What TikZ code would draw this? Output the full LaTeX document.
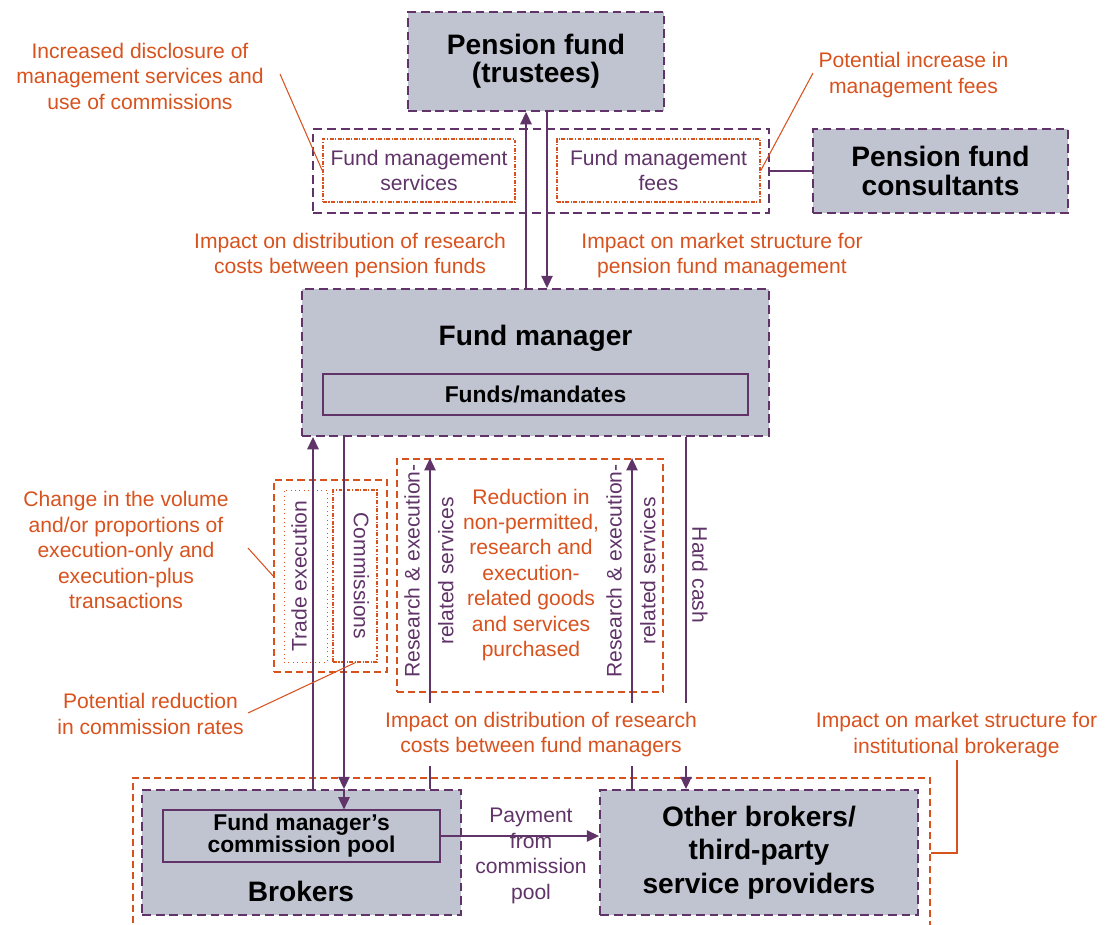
\documentclass[tikz,border=0pt]{standalone}
\usepackage{fontspec}
\setmainfont{Liberation Sans}
\usetikzlibrary{arrows.meta}

\definecolor{plum}{RGB}{96,52,104}
\definecolor{rust}{RGB}{216,82,30}
\definecolor{slate}{RGB}{191,196,208}

\begin{document}
\begin{tikzpicture}
  [x=0.02cm,y=-0.02cm,every node/.style={align=center,inner sep=2pt}]

  \tikzstyle{entity} = [draw=plum, fill=slate, line width=1.1pt, dash pattern=on 5pt off 2.8pt, font=\bfseries\fontsize{16}{16}\selectfont]
  \tikzstyle{group}  = [draw=plum, line width=1.1pt, dash pattern=on 5pt off 2.8pt]
  \tikzstyle{flow}   = [draw=rust, line width=0.9pt, dash pattern=on 2.2pt off 0.9pt on 0.6pt off 0.9pt, text=plum, font=\fontsize{12}{14.7}\selectfont]
  \tikzstyle{impact} = [draw=rust, line width=1pt, dash pattern=on 4pt off 2.3pt]
  \tikzstyle{subbox} = [draw=plum, line width=0.7pt, font=\bfseries\fontsize{13}{12.5}\selectfont]
  \tikzstyle{note}   = [text=rust, font=\fontsize{12}{14.5}\selectfont]
  \tikzstyle{tag}    = [text=plum, font=\fontsize{12}{14.7}\selectfont]
  \tikzstyle{title}  = [font=\bfseries\fontsize{16}{16}\selectfont]

  \useasboundingbox (0,0) rectangle (1109,924);
  \clip (0,0) rectangle (1109,924);

  % pension fund level
  \node[entity, minimum width=5.12cm, minimum height=1.98cm] (pf)  at (536,61.5)  {Pension fund\\(trustees)};
  \node[group,  minimum width=9.12cm, minimum height=1.68cm] (svc) at (541,171)   {};
  \node[flow,   minimum width=3.84cm, minimum height=1.26cm] (fms) at (419,170.5) {Fund management\\services};
  \node[flow,   minimum width=4.06cm, minimum height=1.26cm] (fmf) at (658.5,170.5) {Fund management\\fees};
  \node[entity, minimum width=5.10cm, minimum height=1.68cm] (pfc) at (940.5,171) {Pension fund\\consultants};

  % fund manager
  \node[entity, minimum width=9.34cm, minimum height=2.94cm] (fm)  at (535.5,362.5) {};
  \node[title]                                               (fmt) at (535.5,338)   {Fund manager};
  \node[subbox, minimum width=8.5cm, minimum height=0.82cm]  (fmd) at (535.5,394.5) {Funds/mandates};

  % flows between fund manager and brokers
  \node[impact, minimum width=2.26cm, minimum height=3.84cm] (tbox) at (330.5,576) {};
  \node[draw=rust, line width=0.5pt, dotted, minimum width=0.86cm, minimum height=3.44cm] (te) at (305.5,576) {};
  \node[flow, minimum width=0.88cm, minimum height=3.44cm]   (cm)   at (355,576) {};
  \node[tag, rotate=90]  (tet) at (299,576)   {Trade execution};
  \node[tag, rotate=-90] (cmt) at (361.5,576) {Commissions};

  \node[impact, minimum width=5.32cm, minimum height=4.66cm] (rbox) at (530,575.5) {};
  \node[note] (red) at (531,575) {Reduction in\\non-permitted,\\research and\\execution-\\related goods\\and services\\purchased};
  \node[tag, rotate=90]  (rs1) at (429,571) {Research \& execution-\\[4.5pt]related services};
  \node[tag, rotate=90]  (rs2) at (631,571) {Research \& execution-\\[4.5pt]related services};
  \node[tag, rotate=-90] (hc)  at (700,575) {Hard cash};

  % brokers
  \node[impact, minimum width=15.94cm, minimum height=3.0cm] (brk) at (531.5,853) {};
  \node[entity, minimum width=6.38cm, minimum height=2.5cm]  (br)  at (301.5,852.5) {};
  \node[title]                                               (brt) at (301,891) {Brokers};
  \node[subbox, minimum width=5.54cm, minimum height=1.04cm] (pool) at (301.5,836) {Fund manager’s\\commission pool};
  \node[entity, font=\bfseries\fontsize{16}{19}\selectfont, minimum width=6.36cm, minimum height=2.5cm] (ob) at (759,852.5) {Other brokers/\\third-party\\service providers};
  \node[tag] (pay) at (531,856) {Payment\\from\\commission\\pool};

  \coordinate (x1) at (526,0);
  \coordinate (x2) at (547,0);
  \coordinate (x3) at (313,0);
  \coordinate (x4) at (344,0);
  \coordinate (x5) at (430,0);
  \coordinate (x6) at (632,0);
  \coordinate (x7) at (686,0);

  \path[-{Triangle[length=7pt,width=6.5pt]}, color=plum, line width=0.8pt]
        (fm.north -| x1) edge (pf.south -| x1)
        (pf.south -| x2) edge (fm.north -| x2)
        (br.north -| x3) edge (fm.south -| x3)
        (fm.south -| x4) edge (br.north -| x4)
        (br.north -| x4) edge (pool.north -| x4)
        (br.north -| x5) edge (rbox.north -| x5)
        (ob.north -| x6) edge (rbox.north -| x6)
        (fm.south -| x7) edge (ob.north -| x7)
        (pool.east)      edge (pool.east -| ob.west);
  \path[color=plum, line width=0.8pt] (svc.east) edge (pfc.west);

  % impacts
  \node[note] (n1) at (140,76)    {Increased disclosure of\\management services and\\use of commissions};
  \node[note] (n2) at (913.5,75)  {Potential increase in\\management fees};
  \node[note] (n3) at (350,255.5) {Impact on distribution of research\\costs between pension funds};
  \node[note] (n4) at (722,255.5) {Impact on market structure for\\pension fund management};
  \node[note] (n5) at (126,550)   {Change in the volume\\and/or proportions of\\execution-only and\\execution-plus\\transactions};
  \node[note] (n6) at (150.5,714) {Potential reduction\\in commission rates};
  \node[note, fill=white, inner ysep=5pt] (n7) at (541,734.5) {Impact on distribution of research\\costs between fund managers};
  \node[note] (n8) at (956.5,735) {Impact on market structure for\\institutional brokerage};

  \coordinate (c1) at (280,74);
  \coordinate (c2) at (813,73);
  \coordinate (c3) at (248,548);
  \coordinate (c4) at (248,713);
  \coordinate (c5) at (957,760);

  \path[color=rust, line width=0.6pt]
        (c1) edge (fms.west)
        (c2) edge (fmf.east)
        (c3) edge (tbox.west)
        (c4) edge (cm.south);
  \draw[rust, line width=0.6pt] (c5) |- (brk.east);
\end{tikzpicture}
\end{document}
